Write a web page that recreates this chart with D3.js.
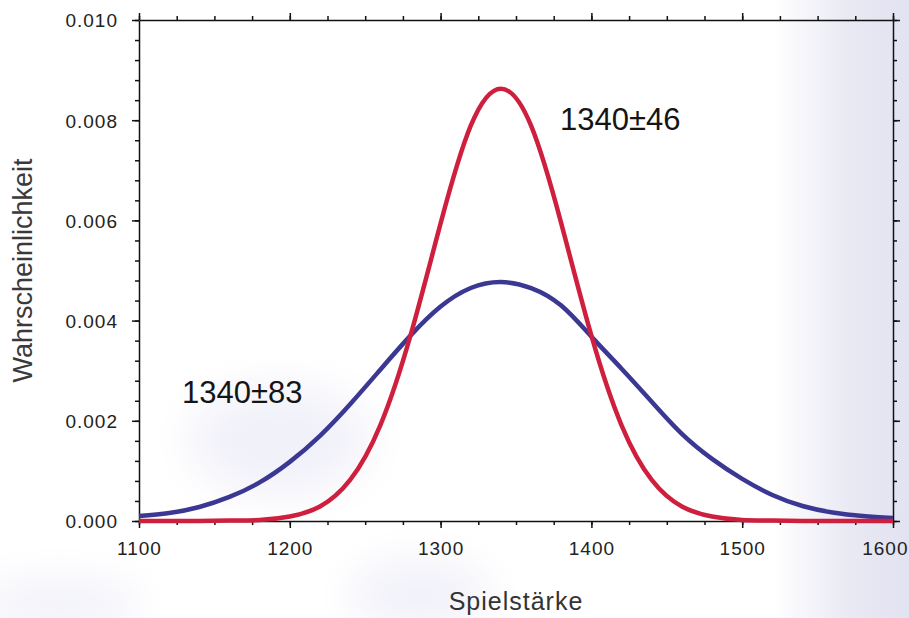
<!DOCTYPE html>
<html>
<head>
<meta charset="utf-8">
<script src="https://cdn.jsdelivr.net/npm/d3@7"></script>
<style>
  html, body { margin: 0; padding: 0; background: #fff; overflow: hidden; }
  svg { display: block; font-family: "Liberation Sans", Arial, sans-serif; }
  .tick text { fill: #222; font-size: 19px; letter-spacing: 1px; }
  .domain, .tick line { stroke: #111; stroke-width: 1.5px; }
</style>
</head>
<body>
<svg id="chart" width="909" height="618"></svg>
<script>
// values
const ratings = [1100, 1120, 1140, 1160, 1180, 1200, 1220, 1240, 1260, 1280, 1300, 1320, 1340,
                 1360, 1380, 1400, 1420, 1440, 1460, 1480, 1500, 1520, 1540, 1560, 1580, 1600];
const wideCurve = [0.00010, 0.00016, 0.00028, 0.00048, 0.00077, 0.00118, 0.00170, 0.00233, 0.00302,
                   0.00370, 0.00428, 0.00465, 0.00477, 0.00465, 0.00430, 0.00368, 0.00304, 0.00238,
                   0.00174, 0.00124, 0.00084, 0.00052, 0.00030, 0.00017, 0.00010, 0.00006];
const narrowCurve = [0, 0, 0, 0.00001, 0.00002, 0.00009, 0.00029, 0.00082, 0.00191, 0.00370, 0.00594,
                     0.00789, 0.00863, 0.00789, 0.00594, 0.00370, 0.00191, 0.00082, 0.00029, 0.00009,
                     0.00002, 0.00001, 0, 0, 0, 0];
const xTicks = [1100, 1200, 1300, 1400, 1500, 1600];
const yTicks = [0, 0.002, 0.004, 0.006, 0.008, 0.010];
const labelNarrow = '1340±46';
const labelWide = '1340±83';

const svg = d3.select('#chart');
const width = 909, height = 618;
const margin = {top: 20, right: 16, bottom: 97, left: 139};

// scanned-paper shading: lavender band on the right, faint blotches
const defs = svg.append('defs');
const grad = defs.append('linearGradient').attr('id', 'paper').attr('x1', 0).attr('x2', 1);
grad.append('stop').attr('offset', '0.85').attr('stop-color', '#ffffff');
grad.append('stop').attr('offset', '0.93').attr('stop-color', '#eaeaf5');
grad.append('stop').attr('offset', '1').attr('stop-color', '#e2e2f1');
defs.append('filter').attr('id', 'blur')
  .append('feGaussianBlur').attr('stdDeviation', 20);

svg.append('rect').attr('width', width).attr('height', height).attr('fill', 'url(#paper)');

const blobs = svg.append('g').attr('filter', 'url(#blur)').attr('fill', '#f1f1f9');
blobs.append('ellipse').attr('cx', 280).attr('cy', 440).attr('rx', 90).attr('ry', 55);
blobs.append('ellipse').attr('cx', 420).attr('cy', 595).attr('rx', 70).attr('ry', 35);
blobs.append('ellipse').attr('cx', 60).attr('cy', 605).attr('rx', 80).attr('ry', 25);

const x = d3.scaleLinear().domain([1100, 1600]).range([margin.left, width - margin.right]);
const y = d3.scaleLinear().domain([0, 0.010]).range([height - margin.bottom, margin.top]);

const xMinor = d3.range(1100, 1601, 25);
const yMinor = d3.range(0, 0.01001, 0.0004);

// minor ticks first, then the labelled majors
const addAxis = (axisFn, scale, transform, majors, minors, format) => {
  svg.append('g')
    .attr('transform', transform)
    .call(axisFn(scale).tickValues(minors).tickSize(4).tickFormat(''))
    .call(g => g.select('.domain').remove());
  return svg.append('g')
    .attr('transform', transform)
    .call(axisFn(scale).tickValues(majors).tickSize(7).tickSizeOuter(0).tickPadding(10)
      .tickFormat(format || ''));
};

const bottomAxis = addAxis(d3.axisBottom, x, `translate(0,${y(0)})`, xTicks, xMinor, d3.format('d'));
addAxis(d3.axisTop, x, `translate(0,${y(0.010)})`, xTicks, xMinor, null);
const leftAxis = addAxis(d3.axisLeft, y, `translate(${x(1100)},0)`, yTicks, yMinor, d3.format('.3f'));
addAxis(d3.axisRight, y, `translate(${x(1600)},0)`, yTicks, yMinor, null);

bottomAxis.selectAll('.tick text').attr('dy', '0.9em');
// last label sits at the page edge, keep it inside
bottomAxis.selectAll('.tick text').filter(d => d === 1600)
  .attr('text-anchor', 'end').attr('x', width - 1 - x(1600));
leftAxis.selectAll('.tick text').attr('dy', '0.36em').attr('dx', '-4');

// curves
const line = d3.line()
  .x((d, i) => x(ratings[i]))
  .y(d => y(d))
  .curve(d3.curveNatural);

svg.append('path')
  .datum(wideCurve)
  .attr('d', line)
  .attr('fill', 'none')
  .attr('stroke', '#3b3894')
  .attr('stroke-width', 4.5)
  .attr('stroke-linejoin', 'round');

svg.append('path')
  .datum(narrowCurve)
  .attr('d', line)
  .attr('fill', 'none')
  .attr('stroke', '#cf1f3e')
  .attr('stroke-width', 4.5)
  .attr('stroke-linejoin', 'round');

// annotations
svg.append('text')
  .attr('x', 560).attr('y', 130)
  .attr('font-size', 31).attr('fill', '#151515')
  .text(labelNarrow);

svg.append('text')
  .attr('x', 182).attr('y', 403)
  .attr('font-size', 31).attr('fill', '#151515')
  .text(labelWide);

// axis titles
svg.append('text')
  .attr('transform', `translate(32,${(margin.top + height - margin.bottom) / 2}) rotate(-90)`)
  .attr('text-anchor', 'middle')
  .attr('font-size', 27).attr('fill', '#3a3a3a')
  .text('Wahrscheinlichkeit');

svg.append('text')
  .attr('x', (margin.left + width - margin.right) / 2).attr('y', 610)
  .attr('text-anchor', 'middle')
  .attr('font-size', 25).attr('fill', '#333')
  .attr('letter-spacing', 1)
  .text('Spielstärke');
</script>
</body>
</html>
